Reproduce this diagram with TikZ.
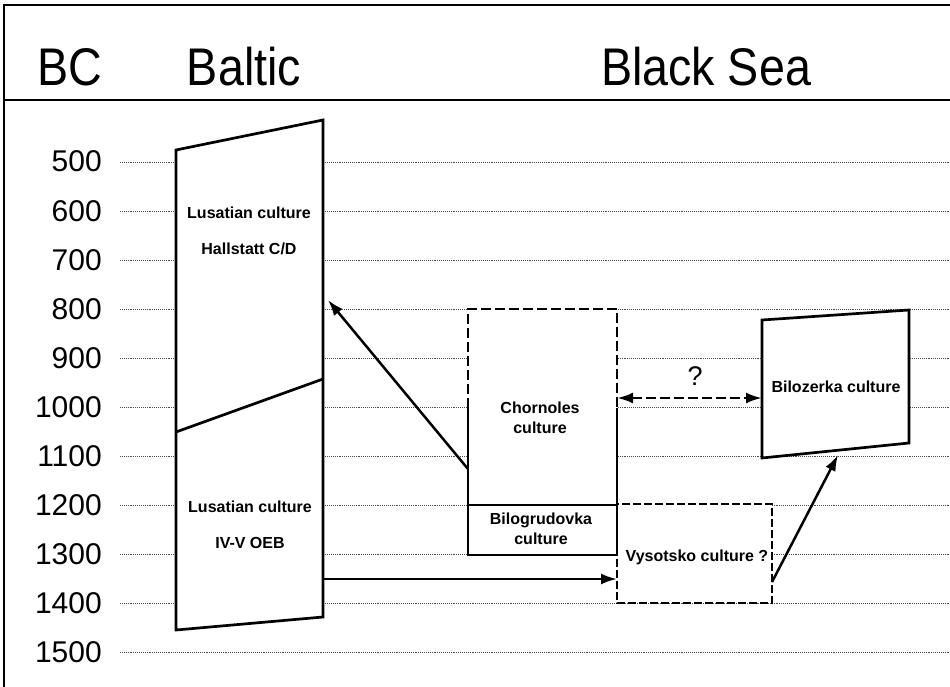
\documentclass[tikz,border=0pt]{standalone}
\usepackage{fontspec}
\setmainfont{Liberation Sans}
\usetikzlibrary{arrows.meta}

\begin{document}
\begin{tikzpicture}[x=1pt, y=-1pt,
  gridline/.style={draw=gray!60!black, line width=0.9pt, densely dotted},
  culture/.style={draw, line width=2.7pt, fill=white, line join=miter},
  solidedge/.style={line width=2.7pt},
  dashedge/.style={line width=2.7pt, dash pattern=on 10pt off 4pt},
  thindash/.style={line width=1.8pt, dash pattern=on 8pt off 3pt, fill=white},
  lbl/.style={font=\bfseries\fontsize{16}{19.5}\selectfont, align=center, inner sep=0pt},
  year/.style={anchor=base east, font=\fontsize{30}{30}\selectfont, inner sep=0pt},
  head/.style={anchor=base, font=\fontsize{53}{53}\selectfont, inner sep=0pt},
  link/.style={line width=2.5pt, -{Latex[length=16pt, width=11pt]}},
  ]
\useasboundingbox (0,0) rectangle (950,687);
% frame and header
\draw[line width=1.8pt] (4,687) -- (4,5) -- (950,5);
\draw[line width=1.8pt] (4,100) -- (950,100);
\node[head] (bc) at (70,86) {\scalebox{0.88}[1]{BC}};
\node[head] (baltic) at (244,86) {\scalebox{0.88}[1]{Baltic}};
\node[head] (blacksea) at (706,86) {\scalebox{0.88}[1]{Black Sea}};

% time scale
\foreach \yr [evaluate=\yr as \py using {162+(\yr-500)*0.49}] in {500,600,...,1500} {
  \node[year] (y\yr) at (102,\py+10) {\yr};
  \draw[gridline] (120,\py) -- (950,\py);
}

% Lusatian culture
\coordinate (lus-nw) at (176,150);
\coordinate (lus-ne) at (323,120);
\coordinate (lus-se) at (323,617);
\coordinate (lus-sw) at (176,630);
\coordinate (lus-w) at (176,432);
\coordinate (lus-e) at (323,379);
\draw[culture] (lus-nw) -- (lus-ne) -- (lus-se) -- (lus-sw) -- cycle;
\draw[solidedge] (lus-w) -- (lus-e);
\node[lbl] (lus1) at (249,213) {Lusatian culture};
\node[lbl] (hall) at (249,249) {Hallstatt C/D};
\node[lbl] (lus2) at (250,507) {Lusatian culture};
\node[lbl] (oeb) at (250,543) {IV-V OEB};

% Vysotsko culture
\coordinate (vys-nw) at (617,504);
\coordinate (vys-se) at (772,603);
\draw[thindash] (vys-nw) rectangle (vys-se);
\node[lbl] (vys) at (697,557) {Vysotsko culture ?};

% Chornoles and Bilogrudovka
\coordinate (cho-nw) at (468,309);
\coordinate (cho-ne) at (617,309);
\coordinate (cho-w) at (468,408);
\coordinate (cho-e) at (617,408);
\coordinate (bil-w) at (468,505);
\coordinate (bil-e) at (617,505);
\coordinate (bil-sw) at (468,555);
\coordinate (bil-se) at (617,555);
\fill[white] (cho-nw) rectangle (bil-se);
\draw[dashedge] (cho-w) -- (cho-nw) -- (cho-ne) -- (cho-e);
\draw[solidedge] (cho-w) -- (bil-sw) -- (bil-se) -- (cho-e);
\draw[solidedge] (bil-w) -- (bil-e);
\node[lbl] (cho) at (540,418) {Chornoles\\culture};
\node[lbl] (bil) at (541,529) {Bilogrudovka\\culture};

% Bilozerka culture
\coordinate (biz-nw) at (762,320);
\coordinate (biz-ne) at (909,310);
\coordinate (biz-se) at (909,443);
\coordinate (biz-sw) at (762,458);
\draw[culture] (biz-nw) -- (biz-ne) -- (biz-se) -- (biz-sw) -- cycle;
\node[lbl] (biz) at (836,387) {Bilozerka culture};

% links
\coordinate (cho-out) at (468,469);
\coordinate (lus-in) at (328,300);
\coordinate (lus-out) at (323,579);
\coordinate (vys-in) at (617,579);
\coordinate (vys-out) at (772,582);
\coordinate (biz-in) at (838,455);
\coordinate (cho-q) at (617,398);
\coordinate (biz-q) at (762,398);
\draw[link] (cho-out) -- (lus-in);
\draw[link] (lus-out) -- (vys-in);
\draw[link] (vys-out) -- (biz-in);
\draw[dashedge, {Latex[length=16pt, width=11pt]}-{Latex[length=16pt, width=11pt]}] (cho-q) -- (biz-q);
\node[font=\fontsize{27}{27}\selectfont, inner sep=0pt] (query) at (695,376) {?};
\end{tikzpicture}
\end{document}
